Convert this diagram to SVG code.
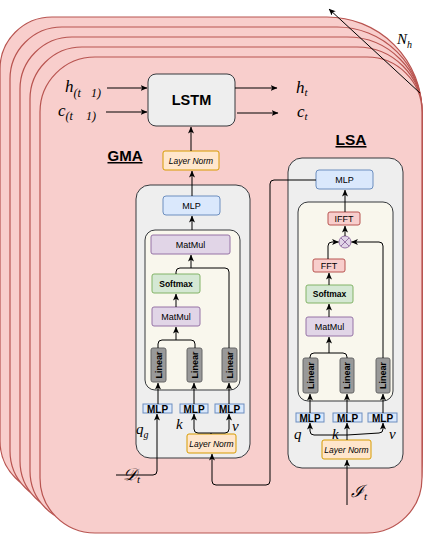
<svg xmlns="http://www.w3.org/2000/svg" width="443" height="537" viewBox="0 0 443 537">
<style>
.card{fill:#f8cecc;stroke:#b85450;stroke-width:1.2}
.cont{fill:#eeeeee;stroke:#36393d;stroke-width:1}
.inner{fill:#f9f7ed;stroke:#36393d;stroke-width:1}
.mlp{fill:#dae8fc;stroke:#6c8ebf;stroke-width:1}
.ln{fill:#ffe6cc;stroke:#d79b00;stroke-width:1}
.mm{fill:#e1d5e7;stroke:#9673a6;stroke-width:1}
.sm{fill:#d5e8d4;stroke:#82b366;stroke-width:1}
.fft{fill:#f8cecc;stroke:#b85450;stroke-width:1}
.lin{fill:#999999;stroke:#666666;stroke-width:1}
.t{font-family:"Liberation Sans",Arial,sans-serif;text-anchor:middle;fill:#000}
.m{font-family:"Liberation Serif","DejaVu Serif",serif;font-style:italic;fill:#000}
.c{fill:none;stroke:#000;stroke-width:1}
</style>
<defs>
<marker id="a" viewBox="0 0 8 7" markerWidth="7" markerHeight="6" refX="7.5" refY="3.5" orient="auto" markerUnits="userSpaceOnUse">
<path d="M0,0 L8,3.5 L0,7 L2,3.5 z" fill="#000"/>
</marker>
</defs>
<g id="cards">
<path class="card" d="M52,17 H327 A95 95 0 0 1 422,112 V441 A52 52 0 0 1 370,493 H52 A52 52 0 0 1 0,441 V69 A52 52 0 0 1 52,17 Z"/>
<path class="card" d="M62,27 H337 A85 85 0 0 1 422,112 V451 A52 52 0 0 1 370,503 H62 A52 52 0 0 1 10,451 V79 A52 52 0 0 1 62,27 Z"/>
<path class="card" d="M72,37 H347 A75 75 0 0 1 422,112 V461 A52 52 0 0 1 370,513 H72 A52 52 0 0 1 20,461 V89 A52 52 0 0 1 72,37 Z"/>
<path class="card" d="M82,47 H357 A65 65 0 0 1 422,112 V471 A52 52 0 0 1 370,523 H82 A52 52 0 0 1 30,471 V99 A52 52 0 0 1 82,47 Z"/>
<path class="card" d="M95,57 H367 A55 55 0 0 1 422,112 V478 A55 55 0 0 1 367,533 H95 A55 55 0 0 1 40,478 V112 A55 55 0 0 1 95,57 Z"/>
</g>
<g id="nh">
<path class="c" d="M420,93 L329,9" marker-end="url(#a)"/>
<text class="m" x="397" y="44" font-size="15">N<tspan font-size="10" dy="4">h</tspan></text>
</g>
<g id="lstm">
<rect x="148" y="74" width="87" height="52" rx="8" fill="#eeeeee" stroke="#36393d"/>
<text class="t" x="191.5" y="105" font-size="14.5" font-weight="bold">LSTM</text>
</g>
<g id="labels-lstm">
<text class="m" x="65" y="92" font-size="17">h<tspan font-size="12" dy="5">(t</tspan><tspan font-size="12" x="91">1)</tspan></text>
<text class="m" x="58" y="116" font-size="17">c<tspan font-size="12" dy="4">(t</tspan><tspan font-size="12" x="86">1)</tspan></text>
<text class="m" x="296" y="93" font-size="17">h<tspan font-size="11" dy="3">t</tspan></text>
<text class="m" x="297" y="117" font-size="17">c<tspan font-size="11" dy="3">t</tspan></text>
</g>
<g id="gma-title"><text class="t" x="125" y="161" font-size="15" font-weight="bold" text-decoration="underline">GMA</text></g>
<g id="lsa-title"><text class="t" x="351" y="145" font-size="15.5" font-weight="bold" text-decoration="underline">LSA</text></g>
<g id="ln-top">
<rect class="ln" x="163" y="151" width="56" height="19" rx="2"/>
<text class="t" x="191" y="163.5" font-size="8.5" font-style="italic">Layer Norm</text>
</g>
<g id="gma">
<rect class="cont" x="136" y="185" width="114" height="273" rx="14"/>
<rect class="mlp" x="163" y="196" width="57" height="19" rx="3"/>
<text class="t" x="191.5" y="208.5" font-size="9">MLP</text>
<rect class="inner" x="145" y="230" width="95" height="160" rx="10"/>
<rect class="mm" x="151" y="235" width="79" height="19" rx="2"/>
<text class="t" x="190.5" y="247.5" font-size="9">MatMul</text>
<rect class="sm" x="152" y="274" width="48" height="19" rx="2"/>
<text class="t" x="176" y="286.5" font-size="8.5" font-weight="bold">Softmax</text>
<rect class="mm" x="152" y="307" width="48" height="19" rx="2"/>
<text class="t" x="176" y="319.5" font-size="9">MatMul</text>
<rect class="lin" x="151" y="348" width="15" height="34" rx="2"/>
<rect class="lin" x="187" y="348" width="15" height="34" rx="2"/>
<rect class="lin" x="222" y="348" width="15" height="34" rx="2"/>
<text class="t" font-size="9" font-weight="bold" transform="translate(161.5,365) rotate(-90)">Linear</text>
<text class="t" font-size="9" font-weight="bold" transform="translate(197.5,365) rotate(-90)">Linear</text>
<text class="t" font-size="9" font-weight="bold" transform="translate(232.5,365) rotate(-90)">Linear</text>
<rect class="mlp" x="143" y="404" width="29" height="9"/>
<rect class="mlp" x="180" y="404" width="28" height="9"/>
<rect class="mlp" x="215" y="404" width="29" height="9"/>
<text class="t" x="157.5" y="412.5" font-size="10" font-weight="bold">MLP</text>
<text class="t" x="194" y="412.5" font-size="10" font-weight="bold">MLP</text>
<text class="t" x="229.5" y="412.5" font-size="10" font-weight="bold">MLP</text>
<rect class="ln" x="187" y="434" width="49" height="19" rx="2"/>
<text class="t" x="211.5" y="446.5" font-size="8.5" font-style="italic">Layer Norm</text>
<text class="m" x="136" y="434" font-size="15">q<tspan font-size="10" dy="4">g</tspan></text>
<text class="m" x="176" y="429" font-size="15">k</text>
<text class="m" x="232" y="431" font-size="15">v</text>
</g>
<g id="lsa">
<rect class="cont" x="288" y="158" width="115" height="310" rx="14"/>
<rect class="mlp" x="316" y="170" width="57" height="19" rx="3"/>
<text class="t" x="344.5" y="182.5" font-size="9">MLP</text>
<rect class="inner" x="298" y="202" width="95" height="199" rx="10"/>
<rect class="fft" x="328" y="212" width="32" height="13" rx="2"/>
<text class="t" x="344" y="222" font-size="9">IFFT</text>
<circle cx="345" cy="242" r="6" fill="#e1d5e7" stroke="#9673a6"/>
<path d="M340.8,237.8 L349.2,246.2 M349.2,237.8 L340.8,246.2" stroke="#9673a6" stroke-width="1"/>
<rect class="fft" x="313" y="259" width="32" height="13" rx="2"/>
<text class="t" x="329" y="269" font-size="9">FFT</text>
<rect class="sm" x="306" y="285" width="47" height="18" rx="2"/>
<text class="t" x="329.5" y="297" font-size="8.5" font-weight="bold">Softmax</text>
<rect class="mm" x="306" y="317" width="47" height="19" rx="2"/>
<text class="t" x="329.5" y="329.5" font-size="9">MatMul</text>
<rect class="lin" x="303" y="358" width="15" height="35" rx="2"/>
<rect class="lin" x="340" y="358" width="14" height="35" rx="2"/>
<rect class="lin" x="376" y="358" width="14" height="35" rx="2"/>
<text class="t" font-size="9" font-weight="bold" transform="translate(313.5,375.5) rotate(-90)">Linear</text>
<text class="t" font-size="9" font-weight="bold" transform="translate(350,375.5) rotate(-90)">Linear</text>
<text class="t" font-size="9" font-weight="bold" transform="translate(386,375.5) rotate(-90)">Linear</text>
<rect class="mlp" x="296" y="413" width="28" height="9"/>
<rect class="mlp" x="333" y="413" width="29" height="9"/>
<rect class="mlp" x="368" y="413" width="29" height="9"/>
<text class="t" x="310" y="421.5" font-size="10" font-weight="bold">MLP</text>
<text class="t" x="347.5" y="421.5" font-size="10" font-weight="bold">MLP</text>
<text class="t" x="382.5" y="421.5" font-size="10" font-weight="bold">MLP</text>
<rect class="ln" x="322" y="440" width="49" height="19" rx="2"/>
<text class="t" x="346.5" y="452.5" font-size="8.5" font-style="italic">Layer Norm</text>
<text class="m" x="294" y="439" font-size="15">q</text>
<text class="m" x="332" y="439" font-size="15">k</text>
<text class="m" x="389" y="439" font-size="15">v</text>
</g>
<g id="inputs">
<text class="m" x="123" y="480" font-size="17">𝒟<tspan font-size="11" dy="3">t</tspan></text>
<text class="m" x="351" y="497" font-size="17">ℐ<tspan font-size="11" dy="3">t</tspan></text>
</g>
<g id="connectors">
<path class="c" d="M107,88 H147" marker-end="url(#a)"/>
<path class="c" d="M106,112 H147" stroke="#444" marker-end="url(#a)"/>
<path class="c" d="M235,88 H277" marker-end="url(#a)"/>
<path class="c" d="M237,113 H278" stroke="#444" marker-end="url(#a)"/>
<path class="c" d="M191,151 V127" marker-end="url(#a)"/>
<path class="c" d="M192,196 V171" stroke="#888" marker-end="url(#a)"/>
<path class="c" d="M192,230 V216" marker-end="url(#a)"/>
<path class="c" d="M176,274 V272 Q176,268 180,268 H225 Q229,268 229,272 V348"/>
<path class="c" d="M191,268 V255" marker-end="url(#a)"/>
<path class="c" d="M176,307 V294" marker-end="url(#a)"/>
<path class="c" d="M158,348 V344 Q158,340 162,340 H191 Q195,340 195,344 V348"/>
<path class="c" d="M176,340 V327" marker-end="url(#a)"/>
<path class="c" d="M158,404 V383" marker-end="url(#a)"/>
<path class="c" d="M194,404 V383" marker-end="url(#a)"/>
<path class="c" d="M229,404 V383" stroke="#555" marker-end="url(#a)"/>
<path class="c" d="M211,434 V433 H198 Q194,433 194,429 V414" marker-end="url(#a)"/>
<path class="c" d="M211,433 H225 Q229,433 229,429 V414" marker-end="url(#a)"/>
<path class="c" d="M116,475 H153 Q157,475 157,471 V414" marker-end="url(#a)"/>
<path class="c" d="M316,180 H274 Q270,180 270,184 V481 Q270,485 266,485 H216 Q212,485 212,481 V454" marker-end="url(#a)"/>
<path class="c" d="M345,212 V190" marker-end="url(#a)"/>
<path class="c" d="M345,236 V226" marker-end="url(#a)"/>
<path class="c" d="M328,259 V246 Q328,242 332,242 H338.5" marker-end="url(#a)"/>
<path class="c" d="M383,358 V246 Q383,242 379,242 H351.5" marker-end="url(#a)"/>
<path class="c" d="M329,285 V273" marker-end="url(#a)"/>
<path class="c" d="M329,317 V304" marker-end="url(#a)"/>
<path class="c" d="M310,358 V357 Q310,353 314,353 H343 Q347,353 347,357 V358"/>
<path class="c" d="M329,353 V337" marker-end="url(#a)"/>
<path class="c" d="M310,413 V394" marker-end="url(#a)"/>
<path class="c" d="M347,413 V394" marker-end="url(#a)"/>
<path class="c" d="M383,413 V394" stroke="#555" marker-end="url(#a)"/>
<path class="c" d="M347,440 V423" marker-end="url(#a)"/>
<path class="c" d="M347,435 H314 Q310,435 310,431 V423" marker-end="url(#a)"/>
<path class="c" d="M347,435 L379,433 Q383,433 383,429 V423" marker-end="url(#a)"/>
<path class="c" d="M347,505 V460" stroke="#444" marker-end="url(#a)"/>
</g>
</svg>
